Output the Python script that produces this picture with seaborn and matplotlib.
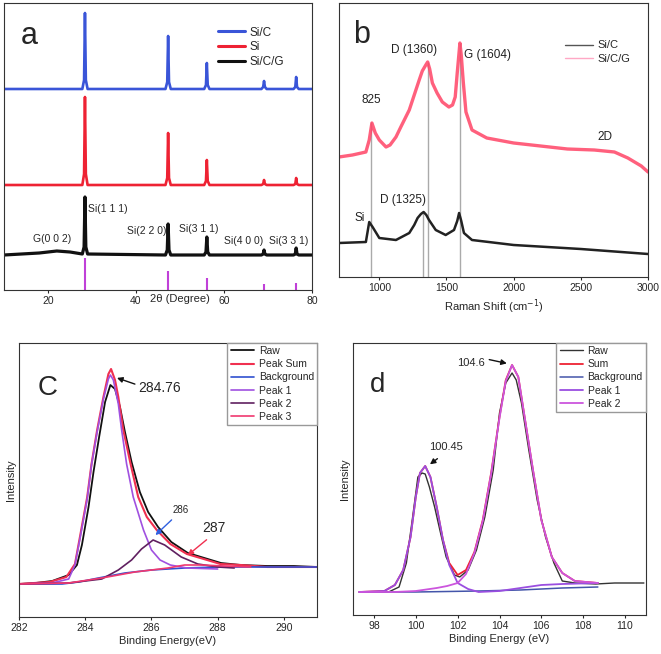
import numpy as np
import pandas as pd
import seaborn as sns
import matplotlib.pyplot as plt

sns.set_style('ticks')
plt.rcParams['font.family'] = ['Liberation Sans', 'DejaVu Sans']

# ---------- (a) XRD ----------
xrd_2theta = [10, 18, 22, 25, 27.8, 28.2, 28.4, 28.6, 29.0, 46.7, 47.1, 47.3, 47.5, 47.9,
              55.5, 55.9, 56.1, 56.3, 56.7, 68.5, 68.9, 69.1, 69.3, 69.7,
              75.8, 76.2, 76.4, 76.6, 77.0, 80]
xrd_sic = [0, 0, 0, 0, 0, 9, 76, 9, 0, 0, 7, 53, 7, 0, 0, 4, 26, 4, 0, 0, 2, 8, 2, 0, 0, 2, 12, 2, 0, 0]
xrd_si = [0, 0, 0, 0, 0, 11, 88, 11, 0, 0, 7, 52, 7, 0, 0, 4, 25, 4, 0, 0, 1, 5, 1, 0, 0, 1, 7, 1, 0, 0]
xrd_sicg = [0, 2, 4, 3, 1, 8, 58, 8, 1, 0, 5, 31, 5, 0, 0, 3, 18, 3, 0, 0, 1, 5, 1, 0, 0, 1, 7, 1, 0, 0]
xrd_names = ['Si/C', 'Si', 'Si/C/G']
xrd_offset = [201, 105, 35]
ref_pos = [28.4, 47.3, 56.1, 69.1, 76.4]
ref_height = [32, 19, 12, 6, 7]

# ---------- (b) Raman ----------
raman_sicg_x = [700, 800, 900, 925, 945, 970, 1000, 1050, 1080, 1124, 1160, 1223, 1260, 1297,
                1320, 1346, 1360, 1375, 1395, 1430, 1469, 1518, 1545, 1565, 1580, 1592, 1600,
                1610, 1625, 1645, 1690, 1800, 2000, 2200, 2400, 2600, 2750, 2850, 2950, 3000]
raman_sicg_y = [120, 122, 125, 137, 154, 144, 137, 130, 132, 140, 150, 167, 182, 197,
                206, 212, 215, 208, 194, 184, 175, 170, 172, 180, 204, 222, 234,
                222, 195, 165, 147, 139, 134, 131, 128, 127, 125, 119, 111, 105]
raman_sic_x = [700, 900, 925, 950, 1000, 1124, 1223, 1260, 1285, 1310, 1330, 1350, 1370, 1420,
               1494, 1556, 1580, 1594, 1610, 1630, 1690, 2000, 2500, 3000]
raman_sic_y = [34, 35, 55, 50, 39, 37, 44, 52, 59, 63, 65, 62, 57, 47, 42, 47, 56, 64, 56,
               44, 37, 32, 28, 23]
raman_marks = [940, 1325, 1360, 1604]
raman_mark_top = [155, 65, 215, 234]

# ---------- (c) C 1s ----------
c_raw_x = [282, 282.5, 283, 283.5, 283.75, 283.9, 284.1, 284.25, 284.42, 284.6, 284.76, 284.9,
           285.05, 285.2, 285.4, 285.65, 285.9, 286.2, 286.6, 287.1, 287.7, 288.1, 288.7,
           289.5, 290.3, 291]
c_raw_y = [33, 34, 36, 42, 52, 72, 110, 145, 180, 215, 232, 228, 210, 185, 155, 125, 105, 90,
           75, 64, 58, 54, 52, 51, 51, 50]
c_sum_x = [282, 282.93, 283.43, 283.69, 283.84, 284.06, 284.19, 284.36, 284.55, 284.7, 284.78,
           284.9, 285.0, 285.15, 285.37, 285.6, 285.86, 286.16, 286.57, 287.07, 287.68,
           288.08, 288.7, 289.5, 291]
c_sum_y = [33, 35, 40, 53, 80, 120, 153, 187, 220, 243, 248, 237, 220, 187, 153, 120, 100, 87,
           73, 63, 57, 53, 52, 50, 50]
c_bg_x = [282, 283.3, 283.8, 284.4, 285.2, 286, 287, 288, 289, 291]
c_bg_y = [33, 33, 35, 39, 44, 47, 49, 50, 50, 50]
c_p1_x = [282, 283, 283.5, 283.69, 283.84, 284.06, 284.19, 284.36, 284.55, 284.7, 284.76,
          284.85, 285.0, 285.1, 285.25, 285.45, 285.76, 286.0, 286.26, 286.57, 287.07, 288]
c_p1_y = [33, 34, 38, 52, 78, 118, 152, 185, 218, 238, 242, 237, 213, 187, 153, 120, 87, 67,
          57, 52, 49, 48]
c_p2_x = [282, 283.5, 284.5, 285.0, 285.4, 285.7, 286.05, 286.4, 286.9, 287.4, 288, 288.5]
c_p2_y = [33, 34, 38, 47, 57, 68, 77, 72, 60, 53, 50, 49]
c_p3_x = [282, 283.5, 284.5, 285.5, 286.5, 287.0, 287.5, 288.2, 289]
c_p3_y = [33, 34, 39, 45, 49, 52, 52, 51, 50]

# ---------- (d) Si 2p ----------
d_raw_x = [97.3, 98.7, 99.2, 99.55, 99.85, 100.1, 100.3, 100.45, 100.65, 100.9, 101.15, 101.45,
           101.85, 102.1, 102.5, 102.9, 103.3, 103.7, 104.0, 104.3, 104.6, 104.8, 105.05,
           105.4, 105.8, 106.2, 106.6, 107.0, 107.6, 108.6, 109.5, 110.9]
d_raw_y = [23, 23, 28, 52, 98, 138, 142, 141, 128, 108, 85, 58, 40, 38, 45, 65, 98, 145, 202,
           232, 242, 235, 212, 165, 115, 78, 52, 34, 32, 31, 32, 32]
d_sum_x = [97.3, 98.5, 99.0, 99.4, 99.75, 100.0, 100.2, 100.45, 100.7, 101.0, 101.3, 101.6,
           102.0, 102.4, 102.8, 103.2, 103.6, 104.0, 104.3, 104.6, 104.9, 105.2, 105.6,
           106.0, 106.5, 107.0, 107.6, 108.7]
d_sum_y = [23, 24, 30, 45, 78, 118, 142, 149, 138, 108, 75, 52, 40, 45, 63, 95, 142, 198, 235,
           250, 238, 198, 145, 95, 58, 42, 34, 32]
d_bg_x = [97.3, 100, 103, 105, 107, 108.7]
d_bg_y = [23, 23, 24, 25, 27, 28]
d_p1_x = [97.3, 98.5, 99.0, 99.4, 99.75, 100.0, 100.2, 100.45, 100.7, 101.0, 101.3, 101.6,
          102.0, 102.5, 103.0, 104.0, 105.0, 106.0, 107.0, 108.7]
d_p1_y = [23, 24, 30, 45, 78, 118, 142, 149, 138, 108, 75, 50, 32, 26, 23, 24, 27, 30, 31, 32]
d_p2_x = [97.3, 99.0, 100.0, 101.0, 101.5, 102.0, 102.4, 102.8, 103.2, 103.6, 104.0, 104.3,
          104.6, 104.9, 105.2, 105.6, 106.0, 106.5, 107.0, 107.6, 108.7]
d_p2_y = [23, 23, 24, 27, 29, 32, 41, 62, 94, 141, 197, 234, 250, 238, 198, 145, 95, 58, 42,
          34, 32]


def line(ax, x, y, color, lw=1.0, label=None, alpha=1.0):
    sns.lineplot(x=x, y=y, ax=ax, color=color, lw=lw, sort=False, estimator=None,
                 label=label, legend=False, alpha=alpha)


def style(ax):
    for s in ax.spines.values():
        s.set_color('#333333')
        s.set_linewidth(0.8)
    ax.set_yticks([])
    ax.tick_params(axis='x', labelsize=7.5, length=2.5, width=0.8, pad=2)
    ax.set_ylabel('')


fig = plt.figure(figsize=(6.61, 6.54), dpi=100)

# ---- a ----
ax = fig.add_axes([4 / 661, 1 - 290 / 654, 308 / 661, 287 / 654])
xrd_cols = ['#3a55d8', '#ee2233', '#111111']
xrd_lw = [1.9, 1.9, 2.3]
for vals, name, off, col, w in zip([xrd_sic, xrd_si, xrd_sicg], xrd_names, xrd_offset, xrd_cols, xrd_lw):
    line(ax, xrd_2theta, np.array(vals) + off, col, lw=w, label=name)
ax.vlines(ref_pos, 0, ref_height, color='#c040d8', lw=1.5)
ax.set_xlim(10, 80)
ax.set_ylim(0, 287)
ax.set_xticks([20, 40, 60, 80])
style(ax)
ax.set_xlabel('')
ax.text(0.571, -0.03, '2θ (Degree)', transform=ax.transAxes, ha='center', va='center', fontsize=8)
ax.text(15.7, 254, 'a', fontsize=22, ha='center', va='center')
for txt, x, y in [('G(0 0 2)', 20.9, 51), ('Si(1 1 1)', 33.6, 81), ('Si(2 2 0)', 42.5, 59),
                  ('Si(3 1 1)', 54.3, 61), ('Si(4 0 0)', 64.5, 49), ('Si(3 3 1)', 74.8, 49)]:
    ax.text(x, y, txt, fontsize=7.5, ha='center', va='center')
leg = ax.legend(loc='upper left', bbox_to_anchor=(0.66, 0.955), frameon=False, fontsize=8.5,
                handlelength=2.3, labelspacing=0.25, handletextpad=0.4)
for h in leg.get_lines():
    h.set_linewidth(2.2)

# ---- b ----
ax = fig.add_axes([339 / 661, 1 - 277 / 654, 309 / 661, 274 / 654])
ax.vlines(raman_marks, 0, raman_mark_top, color='#aaaaaa', lw=1.0)
line(ax, raman_sic_x, raman_sic_y, '#222222', lw=1.8, label='Si/C')
line(ax, raman_sicg_x, raman_sicg_y, '#ff4466', lw=2.4, label='Si/C/G', alpha=0.85)
ax.set_xlim(700, 3000)
ax.set_ylim(0, 274)
ax.set_xticks([1000, 1500, 2000, 2500, 3000])
style(ax)
ax.set_xlabel('Raman Shift (cm$^{-1}$)', fontsize=8, labelpad=3)
ax.text(870, 242, 'b', fontsize=22, ha='center', va='center')
for txt, x, y in [('825', 944, 177), ('D (1360)', 1262, 227), ('G (1604)', 1802, 222),
                  ('2D', 2682, 140), ('Si', 855, 59), ('D (1325)', 1173, 77)]:
    ax.text(x, y, txt, fontsize=8.5, ha='center', va='center', color='#222222')
leg = ax.legend(loc='upper left', bbox_to_anchor=(0.70, 0.90), frameon=False, fontsize=8,
                handlelength=2.5, labelspacing=0.3, handletextpad=0.4)
leg.get_lines()[0].set_color('#555555')
leg.get_lines()[0].set_linewidth(1.0)
leg.get_lines()[1].set_color('#ff99bb')
leg.get_lines()[1].set_linewidth(1.0)

# ---- c ----
ax = fig.add_axes([19 / 661, 1 - 617 / 654, 298 / 661, 274 / 654])
line(ax, c_raw_x, c_raw_y, '#111111', lw=1.3, label='Raw')
line(ax, c_sum_x, c_sum_y, '#f03050', lw=1.5, label='Peak Sum')
line(ax, c_bg_x, c_bg_y, '#3050d0', lw=1.2, label='Background')
line(ax, c_p1_x, c_p1_y, '#a050e0', lw=1.2, label='Peak 1')
line(ax, c_p2_x, c_p2_y, '#602060', lw=1.2, label='Peak 2')
line(ax, c_p3_x, c_p3_y, '#f03870', lw=1.2, label='Peak 3')
ax.set_xlim(282, 291)
ax.set_ylim(0, 274)
ax.set_xticks([282, 284, 286, 288, 290])
style(ax)
ax.set_xlabel('Binding Energy(eV)', fontsize=8, labelpad=2)
ax.set_ylabel('Intensity', fontsize=8, labelpad=2)
ax.text(282.85, 229, 'C', fontsize=20, ha='center', va='center')
ax.text(285.6, 229, '284.76', fontsize=10, ha='left', va='center')
ax.annotate('', xy=(284.88, 240), xytext=(285.58, 232),
            arrowprops=dict(arrowstyle='-|>', color='#111111', lw=1, mutation_scale=8))
ax.text(286.88, 107, '286', fontsize=7, ha='center', va='center')
ax.annotate('', xy=(286.06, 80), xytext=(286.67, 99),
            arrowprops=dict(arrowstyle='-|>', color='#3060e0', lw=1, mutation_scale=8))
ax.text(287.88, 89, '287', fontsize=10, ha='center', va='center')
ax.annotate('', xy=(287.03, 60), xytext=(287.73, 79),
            arrowprops=dict(arrowstyle='-|>', color='#f03050', lw=1, mutation_scale=8))
ax.legend(loc='upper right', bbox_to_anchor=(1, 1), borderaxespad=0, fontsize=7.5,
          fancybox=False, edgecolor='#999999', framealpha=1, handlelength=2.3,
          labelspacing=0.3, handletextpad=0.4, borderpad=0.3)

# ---- d ----
ax = fig.add_axes([353 / 661, 1 - 615 / 654, 293 / 661, 272 / 654])
line(ax, d_raw_x, d_raw_y, '#333333', lw=1.0, label='Raw')
line(ax, d_sum_x, d_sum_y, '#ee2233', lw=1.3, label='Sum')
line(ax, d_bg_x, d_bg_y, '#4455aa', lw=1.1, label='Background')
line(ax, d_p1_x, d_p1_y, '#9a4ee0', lw=1.3, label='Peak 1')
line(ax, d_p2_x, d_p2_y, '#cc55dd', lw=1.3, label='Peak 2')
ax.set_xlim(97, 111)
ax.set_ylim(0, 272)
ax.set_xticks([98, 100, 102, 104, 106, 108, 110])
style(ax)
ax.set_xlabel('Binding Energy (eV)', fontsize=8, labelpad=2)
ax.set_ylabel('Intensity', fontsize=8, labelpad=2)
ax.text(98.19, 230, 'd', fontsize=20, ha='center', va='center')
ax.text(102.62, 252, '104.6', fontsize=8, ha='center', va='center')
ax.annotate('', xy=(104.48, 251), xytext=(103.38, 256),
            arrowprops=dict(arrowstyle='-|>', color='#111111', lw=1, mutation_scale=8))
ax.text(101.43, 168, '100.45', fontsize=8, ha='center', va='center')
ax.annotate('', xy=(100.57, 149), xytext=(101.14, 158),
            arrowprops=dict(arrowstyle='-|>', color='#111111', lw=1, mutation_scale=8))
ax.legend(loc='upper right', bbox_to_anchor=(1, 1), borderaxespad=0, fontsize=7.5,
          fancybox=False, edgecolor='#999999', framealpha=1, handlelength=2.3,
          labelspacing=0.3, handletextpad=0.4, borderpad=0.3)

fig.savefig('out.png', dpi=100)
